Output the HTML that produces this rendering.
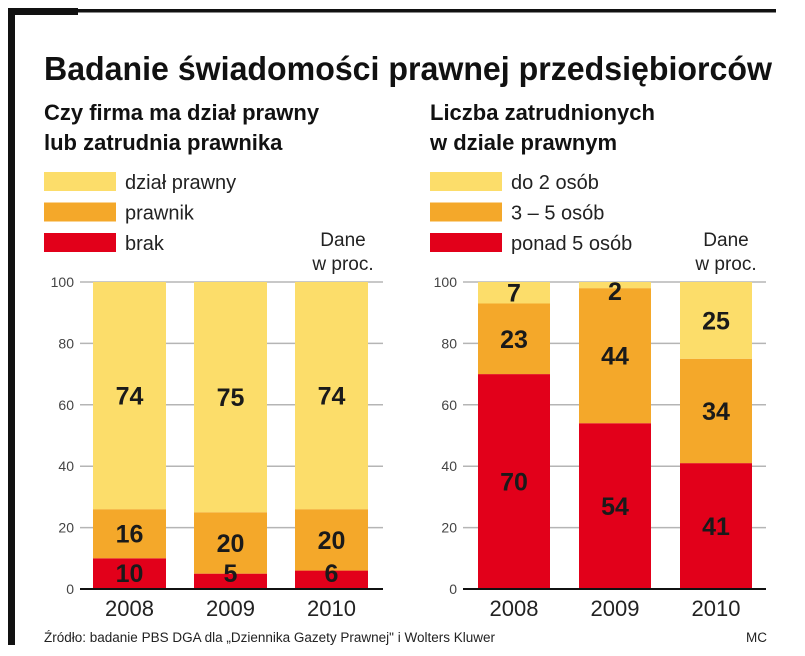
<!DOCTYPE html>
<html><head><meta charset="utf-8"><style>
body{margin:0;background:#fff;}
svg{display:block;font-family:"Liberation Sans",sans-serif;}
</style></head><body>
<svg width="805" height="656" viewBox="0 0 805 656">
<rect x="8" y="8" width="7" height="637" fill="#111"/>
<rect x="8" y="8" width="70" height="7" fill="#111"/>
<rect x="8" y="9" width="768" height="3.5" fill="#111"/>
<text x="44" y="80" font-size="33" font-weight="bold" fill="#111" textLength="728" lengthAdjust="spacingAndGlyphs">Badanie świadomości prawnej przedsiębiorców</text>
<text x="44" y="120" font-size="22" font-weight="bold" fill="#111">Czy firma ma dział prawny</text>
<text x="44" y="150" font-size="22" font-weight="bold" fill="#111">lub zatrudnia prawnika</text>
<text x="430" y="120" font-size="22" font-weight="bold" fill="#111">Liczba zatrudnionych</text>
<text x="430" y="150" font-size="22" font-weight="bold" fill="#111">w dziale prawnym</text>
<g id="charts"></g>
<text x="44" y="642" font-size="13.5" fill="#222">Źródło: badanie PBS DGA dla „Dziennika Gazety Prawnej" i Wolters Kluwer</text>
<text x="746" y="642" font-size="13.5" fill="#222">MC</text>
</svg>
<script>
const years = ["2008","2009","2010"];
const leftBrak = [10,5,6];
const leftPrawnik = [16,20,20];
const leftDzial = [74,75,74];
const leftNames = ["dział prawny","prawnik","brak"];
const rightPonad5 = [70,54,41];
const right3to5 = [23,44,34];
const rightDo2 = [7,2,25];
const rightNames = ["do 2 osób","3 – 5 osób","ponad 5 osób"];
const yTicks = [0,20,40,60,80,100];
const COLORS = ["#FCDD6A","#F4A82A","#E2001A"];
const NS = "http://www.w3.org/2000/svg";
const root = document.getElementById("charts");
function mk(tag, attrs, text){const e=document.createElementNS(NS,tag);for(const k in attrs)e.setAttribute(k,attrs[k]);if(text!==undefined)e.textContent=text;root.appendChild(e);return e;}

function chart(prefix, x0, gridL, gridR, bar0, step, bw, stacks, names){
  const yTop=282, yBase=589;
  const y = v => yBase - v/100*(yBase-yTop);
  names.forEach((n,i)=>{
    const r=mk("rect",{x:x0,y:172+i*30.5,width:72,height:19,fill:COLORS[i]});
    
    
    const t=mk("text",{x:x0+81,y:189+i*30.5,"font-size":20,fill:"#222"},n);
    
    
  });
  const d1=mk("text",{x:gridR-40,y:246,"font-size":19,fill:"#222","text-anchor":"middle"},"Dane");
  
  
  const d2=mk("text",{x:gridR-40,y:270,"font-size":19,fill:"#222","text-anchor":"middle"},"w proc.");
  
  
  yTicks.forEach(v=>{
    if(v>0){const g=mk("line",{x1:gridL,x2:gridR,y1:y(v),y2:y(v),stroke:"#b5b5b5","stroke-width":1.5});
      
      }
    const t=mk("text",{x:gridL-6,y:y(v)+5,"font-size":14,fill:"#444","text-anchor":"end"},v);
    
    
  });
  const labels=[];
  years.forEach((yr,i)=>{
    const bx=bar0+i*step;
    let acc=0;
    stacks.forEach((arr,s)=>{
      const v=arr[i];
      const top=y(acc+v), bot=y(acc);
      const r=mk("rect",{x:bx,y:top,width:bw,height:bot-top,fill:COLORS[2-s]});
      
      
      let cy=(top+bot)/2;
      cy=Math.min(cy,yBase-16); cy=Math.max(cy,yTop+9);
      labels.push([bx+bw/2,cy+9,v,yr,s]);
      acc+=v;
    });
    const t=mk("text",{x:bx+bw/2,y:616,"font-size":22,fill:"#222","text-anchor":"middle"},yr);
    
    
  });
  labels.forEach(l=>{
    const t=mk("text",{x:l[0],y:l[1],"font-size":25,"font-weight":"bold",fill:"#1a1a1a","text-anchor":"middle"},l[2]);
    
    
  });
  const ax=mk("line",{x1:gridL,x2:gridR,y1:yBase,y2:yBase,stroke:"#111","stroke-width":2});
  
  
}
chart("left",44,80,383,93,101,73,[leftBrak,leftPrawnik,leftDzial],leftNames);
chart("right",430,463,766,478,101,72,[rightPonad5,right3to5,rightDo2],rightNames);
</script>
</body></html>
